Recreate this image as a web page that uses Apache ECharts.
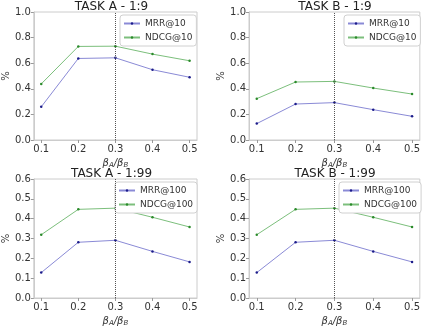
<!DOCTYPE html>
<html>
<head>
<meta charset="utf-8">
<script src="https://cdn.jsdelivr.net/npm/echarts@6/dist/echarts.min.js"></script>
<style>
  html, body { margin: 0; padding: 0; background: #fff; }
  #main { width: 423px; height: 328px; }
</style>
</head>
<body>
<div id="main"></div>
<script>
// x values (beta_A / beta_B)
const ratios = [0.1, 0.2, 0.3, 0.4, 0.5];

// TASK A - 1:9
const mrr10A = [0.259, 0.637, 0.642, 0.549, 0.490];
const ndcg10A = [0.438, 0.731, 0.733, 0.671, 0.619];
// TASK B - 1:9
const mrr10B = [0.128, 0.281, 0.292, 0.237, 0.185];
const ndcg10B = [0.323, 0.453, 0.458, 0.406, 0.359];
// TASK A - 1:99
const mrr100A = [0.128, 0.281, 0.291, 0.235, 0.182];
const ndcg100A = [0.319, 0.447, 0.453, 0.407, 0.358];
// TASK B - 1:99
const mrr100B = [0.128, 0.281, 0.291, 0.235, 0.182];
const ndcg100B = [0.319, 0.447, 0.453, 0.407, 0.358];

const titles = ['TASK A - 1:9', 'TASK B - 1:9', 'TASK A - 1:99', 'TASK B - 1:99'];

let myChart = echarts.init(document.getElementById('main'));

const font = 'DejaVu Sans';
const frame = '#cccccc';

// panel boxes [left, top, width, height]
const boxes = [
    [26, 12, 171, 128],
    [249, 12, 172, 128],
    [26, 179, 171, 128],
    [249, 179, 172, 128]
];
const panels = [
    { mrr: mrr10A, ndcg: ndcg10A, k: 10, max: 1.0, step: 0.2 },
    { mrr: mrr10B, ndcg: ndcg10B, k: 10, max: 1.0, step: 0.2 },
    { mrr: mrr100A, ndcg: ndcg100A, k: 100, max: 0.6, step: 0.1 },
    { mrr: mrr100B, ndcg: ndcg100B, k: 100, max: 0.6, step: 0.1 }
];
const legendPos = [
    [120, 15],
    [344, 15],
    [115, 182],
    [339, 182]
];

let grid = [], xAxis = [], yAxis = [], series = [], title = [], legend = [];

function pairs(vals) {
    return vals.map(function (v, i) { return [ratios[i], v]; });
}

panels.forEach(function (p, i) {
    let b = boxes[i];
    grid.push({
        left: b[0], top: b[1], width: b[2], height: b[3],
        show: true, borderColor: frame, borderWidth: 1, backgroundColor: '#fff'
    });
    title.push({
        text: titles[i],
        left: b[0] + b[2] / 2, top: b[1] - 11,
        textAlign: 'center',
        padding: 0,
        textStyle: { fontFamily: font, fontSize: 12, fontWeight: 'normal', color: '#222', lineHeight: 11 }
    });
    xAxis.push({
        type: 'value', gridIndex: i,
        min: 0.08, max: 0.52,
        name: '{b|β}{s|A}{b|/β}{s|B}',
        nameLocation: 'middle', nameGap: 17,
        nameTextStyle: {
            rich: {
                b: { fontFamily: font, fontSize: 10, fontStyle: 'italic', color: '#333' },
                s: { fontFamily: font, fontSize: 7, fontStyle: 'italic', color: '#333', padding: [5, 0, 0, 0] }
            }
        },
        axisLine: { show: true, onZero: false, lineStyle: { color: frame } },
        axisTick: { show: true, length: 3, lineStyle: { color: '#999' }, customValues: ratios },
        axisLabel: {
            fontFamily: font, fontSize: 10, color: '#333', margin: 4,
            customValues: ratios,
            formatter: function (v) { return v.toFixed(1); }
        },
        splitLine: { show: false }
    });
    yAxis.push({
        type: 'value', gridIndex: i,
        min: 0, max: p.max, interval: p.step,
        name: '%', nameLocation: 'middle', nameGap: 19,
        nameTextStyle: { fontFamily: font, fontSize: 10, color: '#333' },
        axisLine: { show: true, lineStyle: { color: frame } },
        axisTick: { show: true, length: 3, lineStyle: { color: '#999' } },
        axisLabel: {
            fontFamily: font, fontSize: 10, color: '#333', margin: 3,
            formatter: function (v) { return v.toFixed(1); }
        },
        splitLine: { show: false }
    });
    series.push({
        name: 'MRR@' + p.k,
        type: 'line',
        xAxisIndex: i, yAxisIndex: i,
        data: pairs(p.mrr),
        symbol: 'circle', symbolSize: 2.5,
        itemStyle: { color: '#1c1c8a' },
        lineStyle: { color: '#8a8ad6', width: 1 },
        markLine: {
            silent: true, symbol: 'none',
            label: { show: false },
            lineStyle: { color: '#555', type: [1, 1], width: 1 },
            data: [{ xAxis: 0.3 }]
        },
        z: 3
    });
    series.push({
        name: 'NDCG@' + p.k,
        type: 'line',
        xAxisIndex: i, yAxisIndex: i,
        data: pairs(p.ndcg),
        symbol: 'circle', symbolSize: 2.5,
        itemStyle: { color: '#2a8a2a' },
        lineStyle: { color: '#7cbf7c', width: 1 },
        z: 3
    });
    let lp = legendPos[i];
    legend.push({
        data: ['MRR@' + p.k, 'NDCG@' + p.k],
        orient: 'vertical',
        left: lp[0], top: lp[1],
        itemWidth: 16, itemHeight: 3, itemGap: 5,
        padding: [4, 4, 4, 3],
        borderColor: '#d0d0d0', borderWidth: 1, borderRadius: 3,
        backgroundColor: '#fff',
        selectedMode: false,
        itemStyle: { borderWidth: 0 },
        textStyle: { fontFamily: font, fontSize: 9, color: '#333' }
    });
});

let option = {
    animation: false,
    backgroundColor: '#fff',
    title: title,
    legend: legend,
    grid: grid,
    xAxis: xAxis,
    yAxis: yAxis,
    series: series
};

myChart.setOption(option, true);
</script>
</body>
</html>
